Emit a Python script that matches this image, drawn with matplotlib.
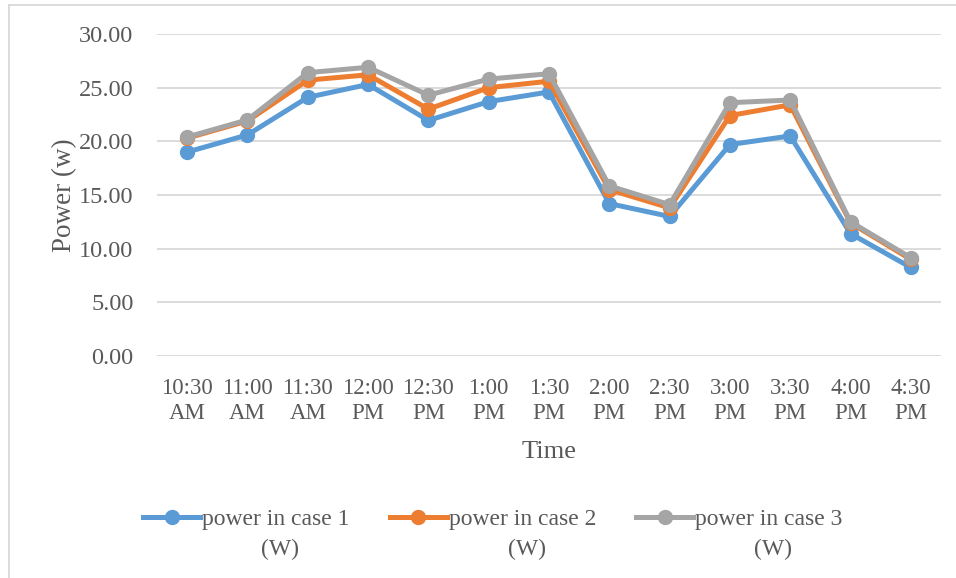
import matplotlib
matplotlib.use("Agg")
import matplotlib.pyplot as plt
from matplotlib.lines import Line2D

# Time slots and measured power for each case
times = ["10:30\nAM", "11:00\nAM", "11:30\nAM", "12:00\nPM", "12:30\nPM", "1:00\nPM",
         "1:30\nPM", "2:00\nPM", "2:30\nPM", "3:00\nPM", "3:30\nPM", "4:00\nPM", "4:30\nPM"]
case1 = [19.0, 20.6, 24.1, 25.3, 21.95, 23.7, 24.6, 14.2, 13.0, 19.7, 20.5, 11.4, 8.25]
case2 = [20.3, 21.9, 25.7, 26.2, 23.0, 25.0, 25.6, 15.5, 13.8, 22.4, 23.4, 12.4, 9.0]
case3 = [20.4, 22.0, 26.4, 26.9, 24.3, 25.8, 26.3, 15.85, 14.1, 23.6, 23.85, 12.5, 9.15]

series_names = ["power in case 1", "power in case 2", "power in case 3"]
unit = "(W)"
colors = ["#5B9BD5", "#ED7D31", "#A5A5A5"]
y_ticks = [0, 5, 10, 15, 20, 25, 30]

plt.rcParams["font.family"] = ["Liberation Serif", "DejaVu Serif"]
text_color = "#595959"

fig = plt.figure(figsize=(9.56, 5.78), dpi=100)
W, H = 956, 578
ax = fig.add_axes([157 / W, 1 - 356 / H, (941 - 157) / W, (356 - 34) / H])

x = list(range(len(times)))
for vals, col, name in zip([case1, case2, case3], colors, series_names):
    ax.plot(x, vals, color=col, lw=3.6, marker="o", ms=10, label=name,
            solid_joinstyle="round", solid_capstyle="round")

ax.set_xlim(-0.5, len(times) - 0.5)
ax.set_ylim(0, 30)
ax.set_yticks(y_ticks)
ax.set_yticklabels([f"{v:.2f}" for v in y_ticks], fontsize=17.5)
ax.set_xticks(x)
ax.set_xticklabels(times, linespacing=1.3, fontsize=16.5)
ax.grid(axis="y", color="#D9D9D9", lw=1.3)
ax.set_axisbelow(True)
for s in ax.spines.values():
    s.set_visible(False)
ax.tick_params(axis="both", length=0, labelcolor=text_color)
ax.tick_params(axis="y", pad=17)
ax.tick_params(axis="x", pad=15.5)
ax.set_xlabel("Time", fontsize=19, color=text_color, labelpad=12)
ax.set_ylabel("Power (w)", fontsize=19.5, color=text_color, labelpad=1.5)

# Legend entries below the plot, unit placed under each entry's name
handles = [Line2D([0], [0], color=c, lw=3.6, marker="o", ms=10) for c in colors]
leg = fig.legend(handles, series_names, loc="center", bbox_to_anchor=(493 / W, 1 - 519 / H),
                 ncol=3, frameon=False, fontsize=17, handlelength=2.4,
                 handletextpad=0.1, columnspacing=1.7, labelcolor=text_color)
fig.canvas.draw()
inv = fig.transFigure.inverted()
for t in leg.get_texts():
    bb = t.get_window_extent()
    (x0, y0), (x1, y1) = inv.transform([[bb.x0, bb.y0], [bb.x1, bb.y1]])
    fig.text((x0 + x1) / 2 + 4 / W, 1 - 549 / H, unit, ha="center", va="center",
             fontsize=17, color=text_color)

# Chart border
fig.add_artist(Line2D([9 / W, 9 / W], [0, 1 - 5 / H], color="#D9D9D9", lw=1.3))
fig.add_artist(Line2D([9 / W, 1], [1 - 5 / H, 1 - 5 / H], color="#D9D9D9", lw=1.3))

fig.savefig("out.png", dpi=100)
